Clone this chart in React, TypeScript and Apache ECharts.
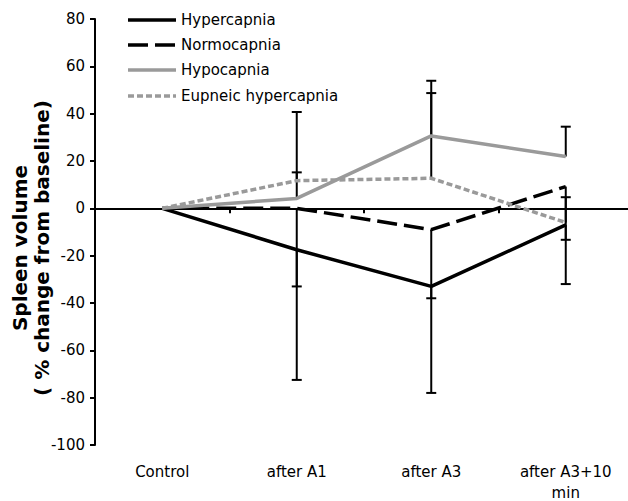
import React, { useEffect, useRef } from "react";
import * as echarts from "echarts";

const categories = ["Control", "after A1", "after A3", "after A3+10 min"];
const yTicks = { min: -100, max: 80, interval: 20 };

const seriesNames = ["Hypercapnia", "Normocapnia", "Hypocapnia", "Eupneic hypercapnia"];
const hypercapnia = [0, -17.5, -33, -7];
const normocapnia = [0, 0, -9, 9.2];
const hypocapnia = [0, 4.2, 30.6, 21.9];
const eupneicHypercapnia = [0, 11.7, 12.7, -6];

// one-sided error bars (magnitudes); Hyper/Normo drawn downward, Hypo/Eupneic upward
const hypercapniaErr = [null, 55, 45, 25];
const normocapniaErr = [null, 33, 29, 22.5];
const hypocapniaErr = [null, 11, 23.3, 12.6];
const eupneicHypercapniaErr = [null, 29, 36, 10.7];

const FONT = "DejaVu Sans";
const LW = 3.5;
const styles: { color: string; type: any }[] = [
  { color: "#000000", type: "solid" },
  { color: "#000000", type: [20, 7] },
  { color: "#9a9a9a", type: "solid" },
  { color: "#9a9a9a", type: [6, 3] },
];

function errData(values: number[], errs: (number | null)[], dir: number) {
  const out: number[][] = [];
  values.forEach((v, i) => {
    const e = errs[i];
    if (e != null) out.push([i, v, e, dir]);
  });
  return out;
}

function errSeries(name: string, data: number[][]) {
  return {
    type: "custom",
    name,
    xAxisIndex: 0,
    yAxisIndex: 0,
    silent: true,
    z: 3,
    encode: { x: 0, y: 1 },
    data,
    renderItem: (params: any, api: any) => {
      const x = api.value(0);
      const v = api.value(1);
      const e = api.value(2);
      const d = api.value(3);
      const p0 = api.coord([x, v]);
      const p1 = api.coord([x, v + d * e]);
      const hw = 5;
      const st = { stroke: "#000", lineWidth: 2 };
      return {
        type: "group",
        children: [
          { type: "line", shape: { x1: p0[0], y1: p0[1], x2: p1[0], y2: p1[1] }, style: st },
          { type: "line", shape: { x1: p1[0] - hw, y1: p1[1], x2: p1[0] + hw, y2: p1[1] }, style: st },
        ],
      };
    },
  };
}

function lineSeries(name: string, data: number[], s: { color: string; type: any }) {
  return {
    type: "line",
    name,
    data,
    xAxisIndex: 0,
    yAxisIndex: 0,
    symbol: "none",
    z: 4,
    lineStyle: { color: s.color, width: LW, type: s.type, cap: "butt" },
    itemStyle: { color: s.color },
  };
}

function legendGraphics() {
  const rows = [20, 45, 70, 96];
  const out: any[] = [];
  seriesNames.forEach((n, i) => {
    const s = styles[i];
    out.push({
      type: "line",
      shape: { x1: 128, y1: rows[i], x2: 176, y2: rows[i] },
      style: {
        stroke: s.color,
        lineWidth: LW,
        lineDash: Array.isArray(s.type) ? s.type : null,
      },
    });
    out.push({
      type: "text",
      x: 181,
      y: rows[i],
      style: {
        text: n,
        fontSize: 15,
        fontFamily: FONT,
        fill: "#000",
        textAlign: "left",
        textVerticalAlign: "middle",
      },
    });
  });
  return out;
}

export default function App() {
  const ref = useRef<HTMLDivElement>(null);
  useEffect(() => {
    document.body.style.margin = "0";
    const chart = echarts.init(ref.current!, undefined, { renderer: "svg" });
    chart.setOption({
      animation: false,
      backgroundColor: "#fff",
      grid: { left: 95, top: 19, width: 538, height: 426, containLabel: false, outerBoundsMode: "none" },
      xAxis: [
        {
          type: "category",
          data: categories,
          boundaryGap: true,
          position: "bottom",
          axisLine: { onZero: true, lineStyle: { color: "#000", width: 2 } },
          axisTick: { show: true, length: 5, lineStyle: { color: "#000", width: 2 } },
          axisLabel: { show: false },
          splitLine: { show: false },
        },
        {
          type: "category",
          data: categories,
          boundaryGap: true,
          position: "bottom",
          axisLine: { show: false, onZero: false },
          axisTick: { show: false },
          axisLabel: {
            show: true,
            margin: 16,
            fontSize: 15,
            lineHeight: 21,
            color: "#000",
            fontFamily: FONT,
            interval: 0,
            formatter: (v: string) => v.replace(" min", "\nmin"),
          },
          splitLine: { show: false },
        },
      ],
      yAxis: {
        type: "value",
        min: yTicks.min,
        max: yTicks.max,
        interval: yTicks.interval,
        axisLine: { show: true, onZero: false, lineStyle: { color: "#000", width: 2 } },
        axisTick: { show: true, length: 5, lineStyle: { color: "#000", width: 2 } },
        axisLabel: { fontSize: 15, color: "#000", fontFamily: FONT, margin: 10 },
        splitLine: { show: false },
      },
      graphic: [
        {
          type: "text",
          x: 31,
          y: 248,
          rotation: Math.PI / 2,
          style: {
            text: "Spleen volume\n( % change from baseline)",
            fontSize: 20,
            fontWeight: "bold",
            fontFamily: FONT,
            lineHeight: 22,
            fill: "#000",
            textAlign: "center",
            textVerticalAlign: "middle",
          },
        },
        ...legendGraphics(),
      ],
      series: [
        errSeries("err1", errData(hypercapnia, hypercapniaErr, -1)),
        errSeries("err2", errData(normocapnia, normocapniaErr, -1)),
        errSeries("err3", errData(hypocapnia, hypocapniaErr, 1)),
        errSeries("err4", errData(eupneicHypercapnia, eupneicHypercapniaErr, 1)),
        lineSeries(seriesNames[0], hypercapnia, styles[0]),
        lineSeries(seriesNames[1], normocapnia, styles[1]),
        lineSeries(seriesNames[2], hypocapnia, styles[2]),
        lineSeries(seriesNames[3], eupneicHypercapnia, styles[3]),
      ],
    });
    return () => chart.dispose();
  }, []);
  return <div ref={ref} style={{ width: 628, height: 501 }} />;
}
